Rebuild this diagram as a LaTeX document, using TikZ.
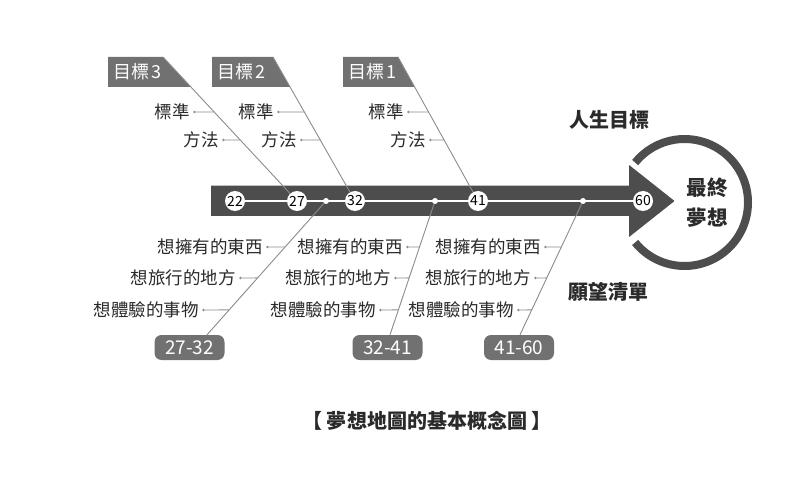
\documentclass[tikz,border=0pt]{standalone}
\usepackage{fontspec}
\setmainfont{Noto Sans CJK TC}
\usetikzlibrary{calc}
\definecolor{dk}{HTML}{4D4D4D}
\definecolor{bx}{HTML}{717171}
\definecolor{ln}{HTML}{8C8C8C}
\definecolor{tx}{HTML}{2A2A2A}
\begin{document}
\begin{tikzpicture}[x=1bp,y=-1bp,
  lbl/.style={font=\fontsize{17.5bp}{20bp}\selectfont, text=tx, inner sep=0, anchor=east},
  ldot/.style={circle, fill=ln, inner sep=0, minimum size=2.6bp},
  bone/.style={draw=ln, line width=0.9bp},
  tick/.style={draw=ln, line width=0.8bp},
  agenode/.style={circle, fill=white, inner sep=0, minimum size=20bp, font=\fontsize{14bp}{14bp}\selectfont, text=black},
  axdot/.style={circle, fill=white, inner sep=0, minimum size=6bp},
  tgt/.style={font=\fontsize{18bp}{20bp}\selectfont, text=white, inner sep=0},
  rng/.style={rounded corners=7bp, fill=bx, minimum width=70bp, minimum height=25bp, inner sep=0, font=\fontsize{19bp}{20bp}\selectfont, text=white},
  head/.style={font=\bfseries\fontsize{20bp}{24bp}\selectfont, text=tx, inner sep=0}]
\useasboundingbox (0,0) rectangle (800,490);
\fill[white] (0,0) rectangle (800,490);

% main arrow
\fill[dk, draw=white, line width=1.5bp] (210,185) -- (628,185) -- (628,163) -- (676,201) -- (628,239) -- (628,217) -- (210,217) -- cycle;

% goal ring
\node[head, align=center, font=\bfseries\fontsize{20.5bp}{30bp}\selectfont] (goal) at (707,203) {最終\\夢想};
\draw[dk, line width=8bp] (684.5,202.5) ++(141:63.5) arc[start angle=141, end angle=-141, radius=63.5];

% axis
\node[agenode] (c22) at (235,201) {22};
\node[agenode] (c27) at (297,201) {27};
\node[agenode] (c32) at (355,201) {32};
\node[agenode] (c41) at (478,201) {41};
\node[agenode] (c60) at (643,201) {60};
\node[axdot] (d1) at (326,201) {};
\node[axdot] (d2) at (435,201) {};
\node[axdot] (d3) at (583,201) {};
\draw[white, line width=2bp] (c22) -- (c27) (c27) -- (c32) (c32) -- (c41) (c41) -- (c60);

% target boxes
\coordinate (t3c) at (163,57);
\coordinate (t2c) at (273,57);
\coordinate (t1c) at (398,57);
\fill[bx] (108,57) -- (t3c) -- ($(t3c)!{30/144}!(c27)$) -- (108,87) -- cycle;
\fill[bx] (212,57) -- (t2c) -- ($(t2c)!{30/144}!(c32)$) -- (212,87) -- cycle;
\fill[bx] (343,57) -- (t1c) -- ($(t1c)!{30/144}!(c41)$) -- (343,87) -- cycle;
\node[tgt, anchor=west] (t3) at (113,72) {目標\hspace{2.5bp}3};
\node[tgt, anchor=west] (t2) at (217,72) {目標\hspace{2.5bp}2};
\node[tgt, anchor=west] (t1) at (348,72) {目標\hspace{2.5bp}1};
\draw[bone] (t3c) -- (c27);
\draw[bone] (t2c) -- (c32);
\draw[bone] (t1c) -- (c41);

% upper labels
\node[lbl] (s3) at (190,112) {標準};
\node[lbl] (m3) at (219,140) {方法};
\node[lbl] (s2) at (274,112) {標準};
\node[lbl] (m2) at (297,140) {方法};
\node[lbl] (s1) at (404,112) {標準};
\node[lbl] (m1) at (426,140) {方法};
\foreach \n/\tc/\ci/\y in {s3/t3c/c27/112, m3/t3c/c27/140, s2/t2c/c32/112, m2/t2c/c32/140, s1/t1c/c41/112, m1/t1c/c41/140}{
  \node[ldot] (\n d) at ($(\n.east)+(4.5,0)$) {};
  \coordinate (\n x) at ($(\tc)!{(\y-57)/144}!(\ci)$);
  \draw[tick] (\n d) -- (\n x);
}

% lower range boxes
\node[rng] (r1) at (189.5,347.5) {27-32};
\node[rng] (r2) at (387.5,347.5) {32-41};
\node[rng] (r3) at (519,347.5) {41-60};
\coordinate (e1) at ($(r1.north)+(17.5,0)$);
\coordinate (e2) at ($(r2.north)+(2.5,0)$);
\coordinate (e3) at ($(r3.north)+(1,0)$);
\draw[bone] (d1) -- (e1);
\draw[bone] (d2) -- (e2);
\draw[bone] (d3) -- (e3);

% lower labels
\foreach \g/\dd/\ee/\xa/\xb/\xc in {1/d1/e1/263/236/199, 2/d2/e2/403/391/376, 3/d3/e3/541/531/514}{
  \node[lbl] (a\g) at (\xa,247) {想擁有的東西};
  \node[lbl] (b\g) at (\xb,278) {想旅行的地方};
  \node[lbl] (c\g) at (\xc,310) {想體驗的事物};
  \foreach \k/\y in {a/247, b/278, c/310}{
    \node[ldot] (\k\g d) at ($(\k\g.east)+(4.5,0)$) {};
    \coordinate (\k\g x) at ($(\dd)!{(\y-201)/134}!(\ee)$);
    \draw[tick] (\k\g d) -- (\k\g x);
  }
}

% headings
\node[head] (life) at (609,120) {人生目標};
\node[head] (wish) at (608,292) {願望清單};
\node[head] (cap) at (427,421) {【 夢想地圖的基本概念圖 】};
\end{tikzpicture}
\end{document}
